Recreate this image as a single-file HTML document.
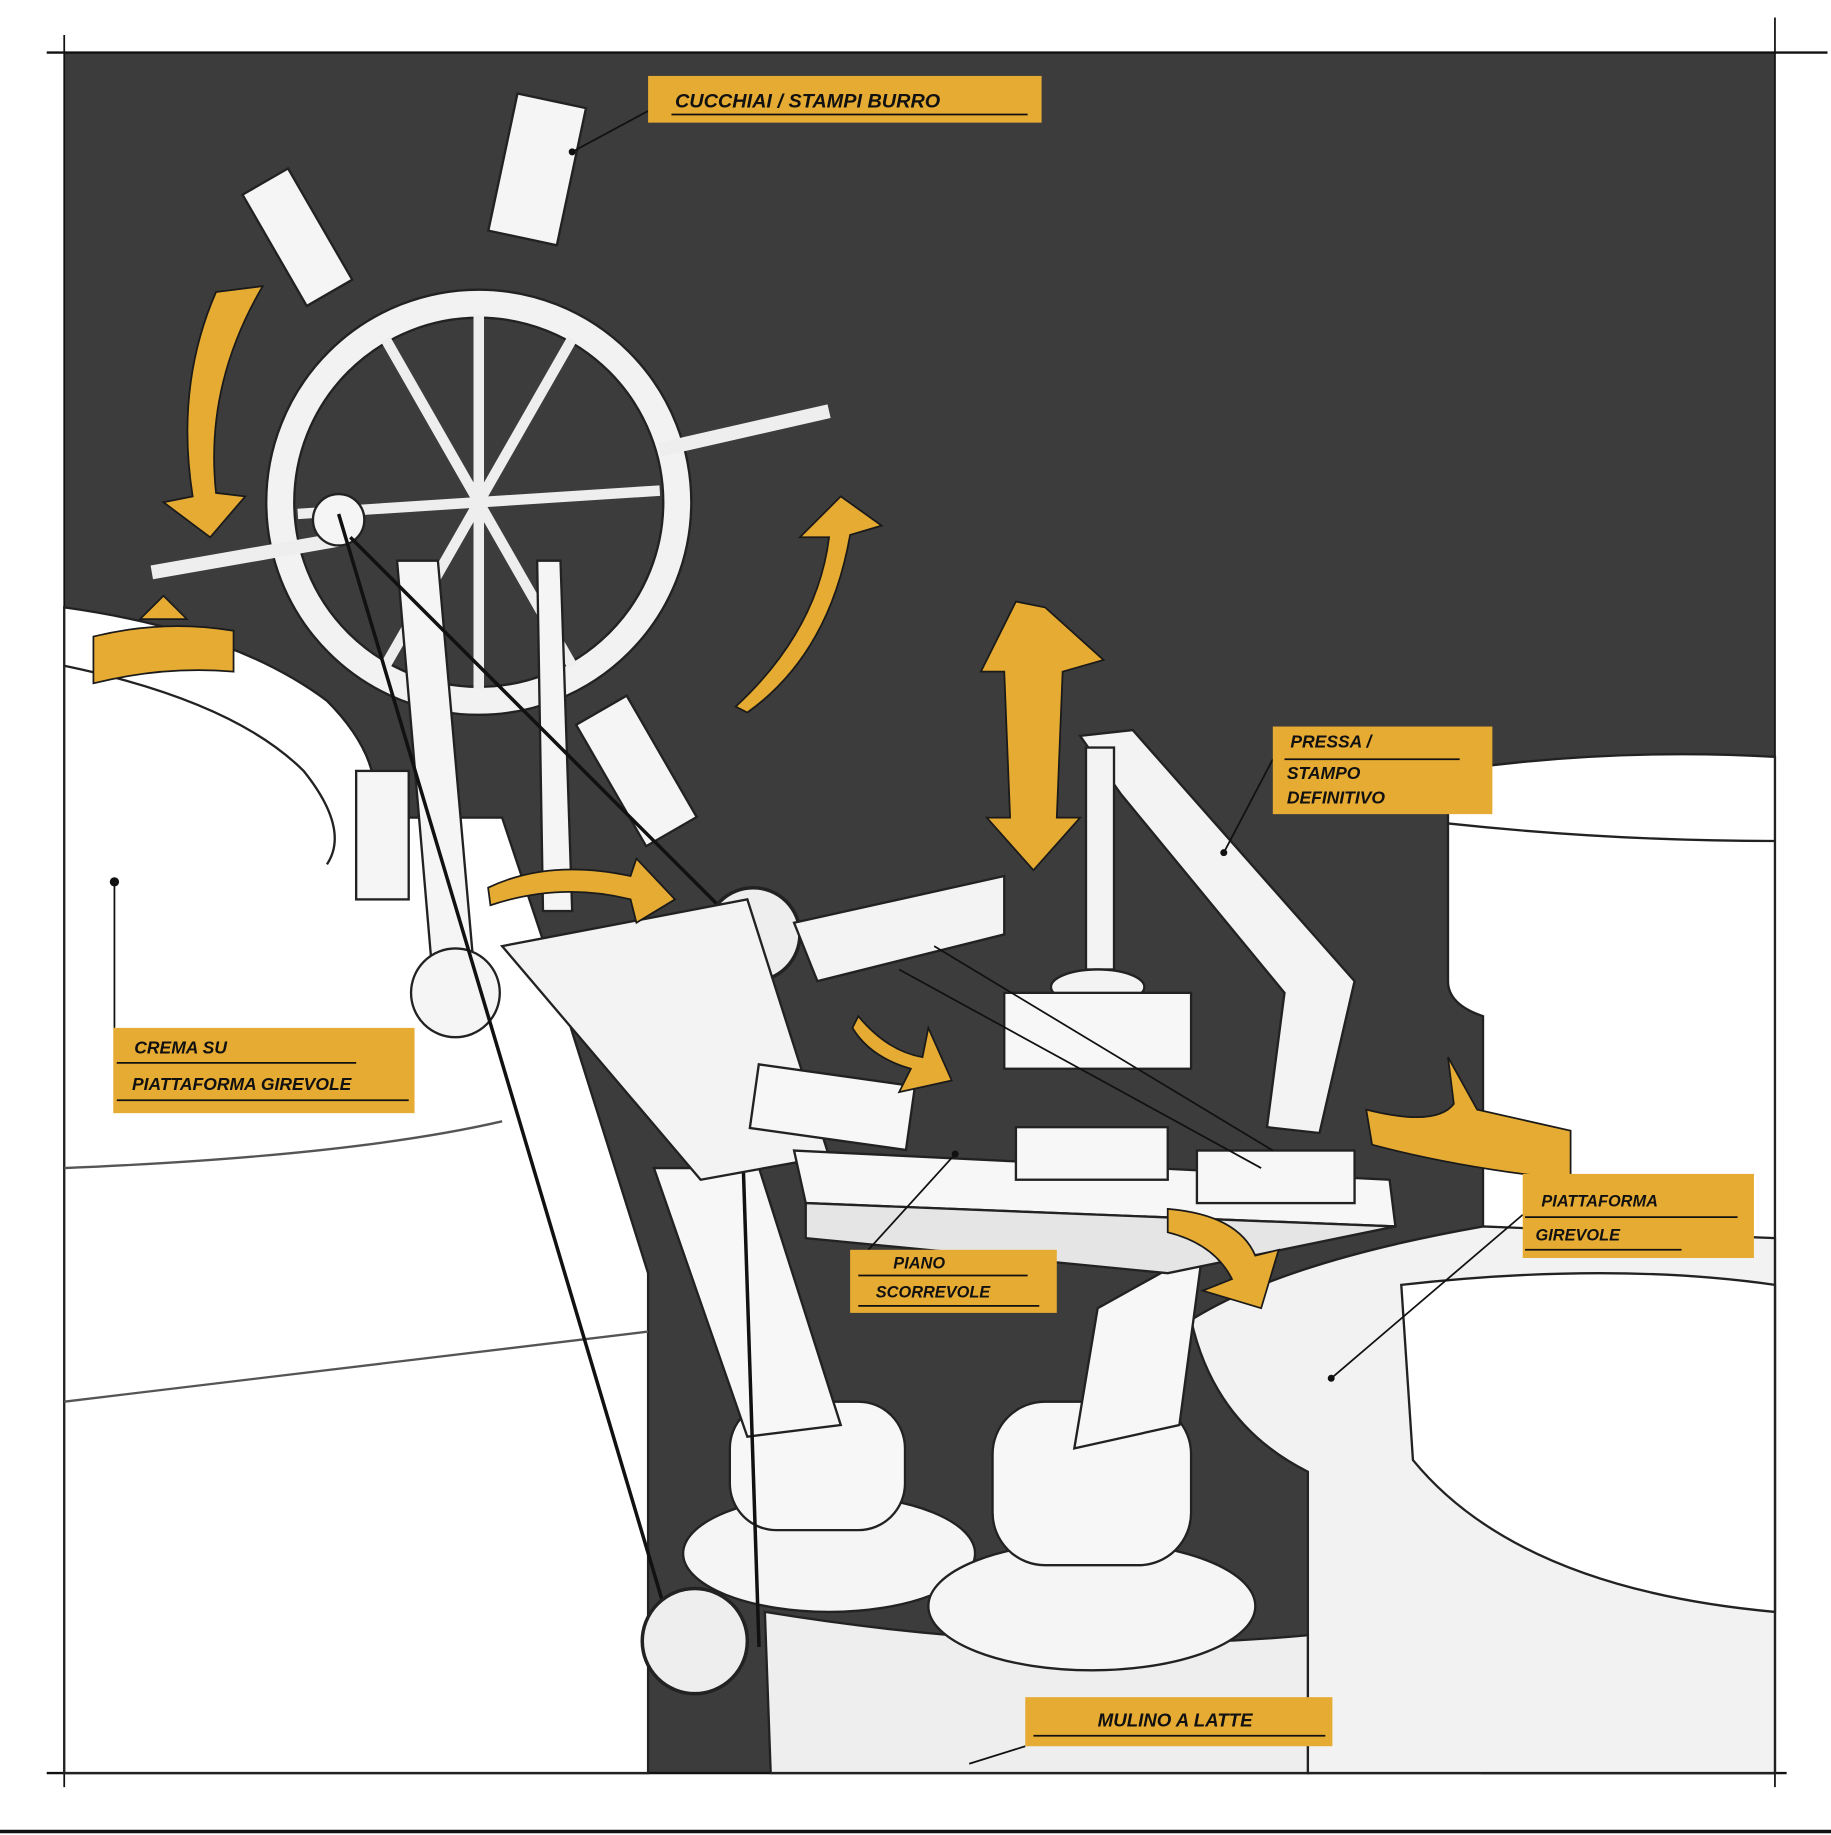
<!DOCTYPE html>
<html><head><meta charset="utf-8"><style>
html,body{margin:0;padding:0;background:#fff;}
svg{display:block}
text{font-family:"Liberation Sans",sans-serif;font-style:italic;font-weight:bold;fill:#111;}
</style></head><body>
<svg width="1831" height="1835" viewBox="0 0 1568 1571" preserveAspectRatio="none" xmlns="http://www.w3.org/2000/svg">
<rect x="0" y="0" width="1568" height="1571" fill="#fff"/>
<rect x="55" y="45" width="1465" height="1473" fill="#3c3c3c"/>
<line x1="40" y1="45" x2="1565" y2="45" stroke="#111" stroke-width="2"/>
<line x1="40" y1="1518" x2="1530" y2="1518" stroke="#111" stroke-width="2"/>
<line x1="55" y1="30" x2="55" y2="1530" stroke="#111" stroke-width="1.5"/>
<line x1="1520" y1="15" x2="1520" y2="1530" stroke="#111" stroke-width="1.5"/>
<line x1="0" y1="1568" x2="1568" y2="1568" stroke="#111" stroke-width="3"/>

<!-- left cream platform -->
<path d="M55 520 Q200 540 280 600 Q330 650 320 700 L430 700 L470 820 L555 1090 L555 1518 L55 1518 Z" fill="#fff" stroke="#222" stroke-width="2"/>
<path d="M55 570 Q200 600 260 660 Q300 710 280 740" fill="none" stroke="#222" stroke-width="2"/>
<path d="M55 1000 Q300 990 430 960" fill="none" stroke="#555" stroke-width="2"/>
<path d="M55 1200 Q300 1170 555 1140" fill="none" stroke="#555" stroke-width="2"/>
<!-- right cylinder -->
<path d="M1240 660 Q1380 640 1520 648 L1520 1518 L1270 1518 L1270 870 Q1240 860 1240 840 Z" fill="#fff" stroke="#222" stroke-width="2"/>
<path d="M1240 705 Q1380 720 1520 720" fill="none" stroke="#222" stroke-width="2"/>
<!-- lower right platform -->
<path d="M1020 1130 Q1100 1080 1270 1050 L1520 1060 L1520 1518 L1120 1518 L1120 1260 Q1040 1220 1020 1130 Z" fill="#f2f2f2" stroke="#222" stroke-width="2"/>
<path d="M1200 1100 Q1380 1080 1520 1100 L1520 1380 Q1300 1360 1210 1250 Z" fill="#fff" stroke="#222" stroke-width="2"/>
<!-- lower center machinery -->
<path d="M655 1380 Q900 1420 1120 1400 L1120 1518 L660 1518 Z" fill="#eee" stroke="#222" stroke-width="2"/>
<ellipse cx="710" cy="1330" rx="125" ry="50" fill="#f5f5f5" stroke="#222" stroke-width="2"/>
<ellipse cx="935" cy="1375" rx="140" ry="55" fill="#f5f5f5" stroke="#222" stroke-width="2"/>
<rect x="625" y="1200" width="150" height="110" rx="40" fill="#f7f7f7" stroke="#222" stroke-width="2"/>
<rect x="850" y="1200" width="170" height="140" rx="45" fill="#f7f7f7" stroke="#222" stroke-width="2"/>
<path d="M560 1000 L650 1000 L720 1220 L640 1230 Z" fill="#f7f7f7" stroke="#222" stroke-width="2"/>
<path d="M940 1120 L1030 1070 L1010 1220 L920 1240 Z" fill="#f7f7f7" stroke="#222" stroke-width="2"/>
<!-- wheel -->
<circle cx="410" cy="430" r="170" fill="none" stroke="#f2f2f2" stroke-width="24"/>
<circle cx="410" cy="430" r="182" fill="none" stroke="#222" stroke-width="2"/>
<circle cx="410" cy="430" r="158" fill="none" stroke="#222" stroke-width="2"/>
<g stroke="#eee" stroke-width="9">
<line x1="330" y1="290" x2="490" y2="570"/><line x1="490" y1="290" x2="330" y2="570"/>
<line x1="255" y1="440" x2="565" y2="420"/><line x1="410" y1="270" x2="410" y2="590"/>
</g>
<line x1="130" y1="490" x2="290" y2="462" stroke="#eee" stroke-width="12"/>
<line x1="565" y1="385" x2="710" y2="352" stroke="#eee" stroke-width="12"/>
<rect x="430" y="85" width="60" height="120" fill="#f5f5f5" stroke="#222" stroke-width="2" transform="rotate(12 460 145)"/>
<rect x="230" y="150" width="45" height="110" fill="#f5f5f5" stroke="#222" stroke-width="2" transform="rotate(-30 250 200)"/>
<rect x="520" y="600" width="50" height="120" fill="#f5f5f5" stroke="#222" stroke-width="2" transform="rotate(-30 545 660)"/>
<rect x="305" y="660" width="45" height="110" fill="#f5f5f5" stroke="#222" stroke-width="2"/>
<circle cx="290" cy="445" r="22" fill="#f5f5f5" stroke="#222" stroke-width="2"/>
<!-- support legs -->
<path d="M340 480 L375 480 L405 820 L370 830 Z" fill="#f5f5f5" stroke="#222" stroke-width="2"/>
<path d="M460 480 L480 480 L490 780 L465 780 Z" fill="#f5f5f5" stroke="#222" stroke-width="2"/>
<circle cx="390" cy="850" r="38" fill="#f5f5f5" stroke="#222" stroke-width="2"/>
<!-- belt -->
<line x1="290" y1="440" x2="570" y2="1380" stroke="#111" stroke-width="3"/>
<line x1="300" y1="460" x2="630" y2="790" stroke="#111" stroke-width="3"/>
<line x1="630" y1="800" x2="650" y2="1410" stroke="#111" stroke-width="3"/>
<circle cx="645" cy="800" r="40" fill="#eee" stroke="#222" stroke-width="3"/>
<circle cx="595" cy="1405" r="45" fill="#eee" stroke="#222" stroke-width="3"/>
<!-- frame -->
<path d="M430 810 L640 770 L710 990 L600 1010 Z" fill="#f3f3f3" stroke="#222" stroke-width="2"/>
<path d="M680 790 L860 750 L860 800 L700 840 Z" fill="#f3f3f3" stroke="#222" stroke-width="2"/>
<!-- conveyor -->
<path d="M680 985 L1190 1010 L1195 1050 L690 1030 Z" fill="#f7f7f7" stroke="#222" stroke-width="2"/>
<path d="M690 1030 L1195 1050 L1000 1090 L690 1060 Z" fill="#e5e5e5" stroke="#222" stroke-width="2"/>
<rect x="870" y="965" width="130" height="45" fill="#f7f7f7" stroke="#222" stroke-width="2"/>
<rect x="1025" y="985" width="135" height="45" fill="#f7f7f7" stroke="#222" stroke-width="2"/>
<rect x="645" y="920" width="135" height="55" fill="#f7f7f7" stroke="#222" stroke-width="2" transform="rotate(8 710 950)"/>
<!-- press -->
<path d="M925 630 L970 625 L1160 840 L1130 970 L1085 965 L1100 850 L960 680 Z" fill="#f3f3f3" stroke="#222" stroke-width="2"/>
<rect x="930" y="640" width="24" height="190" fill="#f3f3f3" stroke="#222" stroke-width="2"/>
<ellipse cx="940" cy="845" rx="40" ry="15" fill="#f3f3f3" stroke="#222" stroke-width="2"/>
<rect x="860" y="850" width="160" height="65" fill="#f7f7f7" stroke="#222" stroke-width="2"/>
<line x1="770" y1="830" x2="1080" y2="1000" stroke="#111" stroke-width="1.5"/>
<line x1="800" y1="810" x2="1090" y2="985" stroke="#111" stroke-width="1.5"/>

<!-- orange arrows -->
<g fill="#e6ab33" stroke="#1a1a1a" stroke-width="1.5">
<path d="M185 250 Q150 330 165 425 L140 430 L180 460 L210 425 L185 422 Q175 330 225 245 Z"/>
<path d="M80 545 Q140 530 200 540 L200 575 Q140 570 80 585 Z M120 530 L140 510 L160 530 Z"/>
<path d="M630 605 Q700 540 710 460 L685 460 L720 425 L755 450 L728 458 Q710 560 640 610 Z"/>
<path d="M870 515 L840 575 L860 575 L865 700 L845 700 L885 745 L925 700 L905 700 L910 575 L945 565 L895 520 Z"/>
<path d="M418 760 Q470 735 540 750 L545 735 L578 770 L545 790 L540 770 Q480 755 420 775 Z"/>
<path d="M735 870 Q760 900 790 905 L795 880 L815 925 L770 935 L780 915 Q745 905 730 880 Z"/>
<path d="M1170 950 Q1230 965 1245 945 L1240 905 L1265 950 L1345 968 L1345 1010 Q1250 1000 1175 980 Z"/>
<path d="M1000 1035 Q1060 1040 1075 1075 L1095 1070 L1080 1120 L1030 1105 L1055 1095 Q1040 1065 1000 1055 Z"/>
</g>

<!-- leader lines -->
<g stroke="#111" stroke-width="1.5" fill="none">
<line x1="555" y1="95" x2="490" y2="130"/>
<polyline points="98,755 98,880"/>
<line x1="1090" y1="650" x2="1048" y2="730"/>
<line x1="1304" y1="1040" x2="1140" y2="1180"/>
<line x1="730" y1="1085" x2="818" y2="988"/>
<line x1="878" y1="1495" x2="830" y2="1510"/>
</g>
<g fill="#111"><circle cx="490" cy="130" r="3"/><circle cx="98" cy="755" r="4"/><circle cx="1048" cy="730" r="3"/><circle cx="1140" cy="1180" r="3"/><circle cx="818" cy="988" r="3"/></g>

<!-- labels -->
<g fill="#e6ab33">
<rect x="555" y="65" width="337" height="40"/>
<rect x="1090" y="622" width="188" height="75"/>
<rect x="97" y="880" width="258" height="73"/>
<rect x="1304" y="1005" width="198" height="72"/>
<rect x="728" y="1070" width="177" height="54"/>
<rect x="878" y="1453" width="263" height="42"/>
</g>
<text x="578" y="92" font-size="17">CUCCHIAI / STAMPI BURRO</text>
<line x1="575" y1="98" x2="880" y2="98" stroke="#111" stroke-width="1.5"/>
<text x="1105" y="640" font-size="15">PRESSA /</text>
<line x1="1100" y1="650" x2="1250" y2="650" stroke="#111" stroke-width="1.5"/>
<text x="1102" y="667" font-size="15">STAMPO</text>
<text x="1102" y="688" font-size="15">DEFINITIVO</text>
<text x="115" y="902" font-size="15">CREMA SU</text>
<line x1="100" y1="910" x2="305" y2="910" stroke="#111" stroke-width="1.5"/>
<text x="113" y="933" font-size="15">PIATTAFORMA GIREVOLE</text>
<line x1="100" y1="942" x2="350" y2="942" stroke="#111" stroke-width="1.5"/>
<text x="1320" y="1033" font-size="14">PIATTAFORMA</text>
<line x1="1306" y1="1042" x2="1488" y2="1042" stroke="#111" stroke-width="1.5"/>
<text x="1315" y="1062" font-size="14">GIREVOLE</text>
<line x1="1306" y1="1070" x2="1440" y2="1070" stroke="#111" stroke-width="1.5"/>
<text x="765" y="1086" font-size="14">PIANO</text>
<line x1="735" y1="1092" x2="880" y2="1092" stroke="#111" stroke-width="1.5"/>
<text x="750" y="1111" font-size="14">SCORREVOLE</text>
<line x1="735" y1="1118" x2="890" y2="1118" stroke="#111" stroke-width="1.5"/>
<text x="940" y="1478" font-size="16">MULINO  A LATTE</text>
<line x1="885" y1="1486" x2="1135" y2="1486" stroke="#111" stroke-width="1.5"/>
</svg>
</body></html>
